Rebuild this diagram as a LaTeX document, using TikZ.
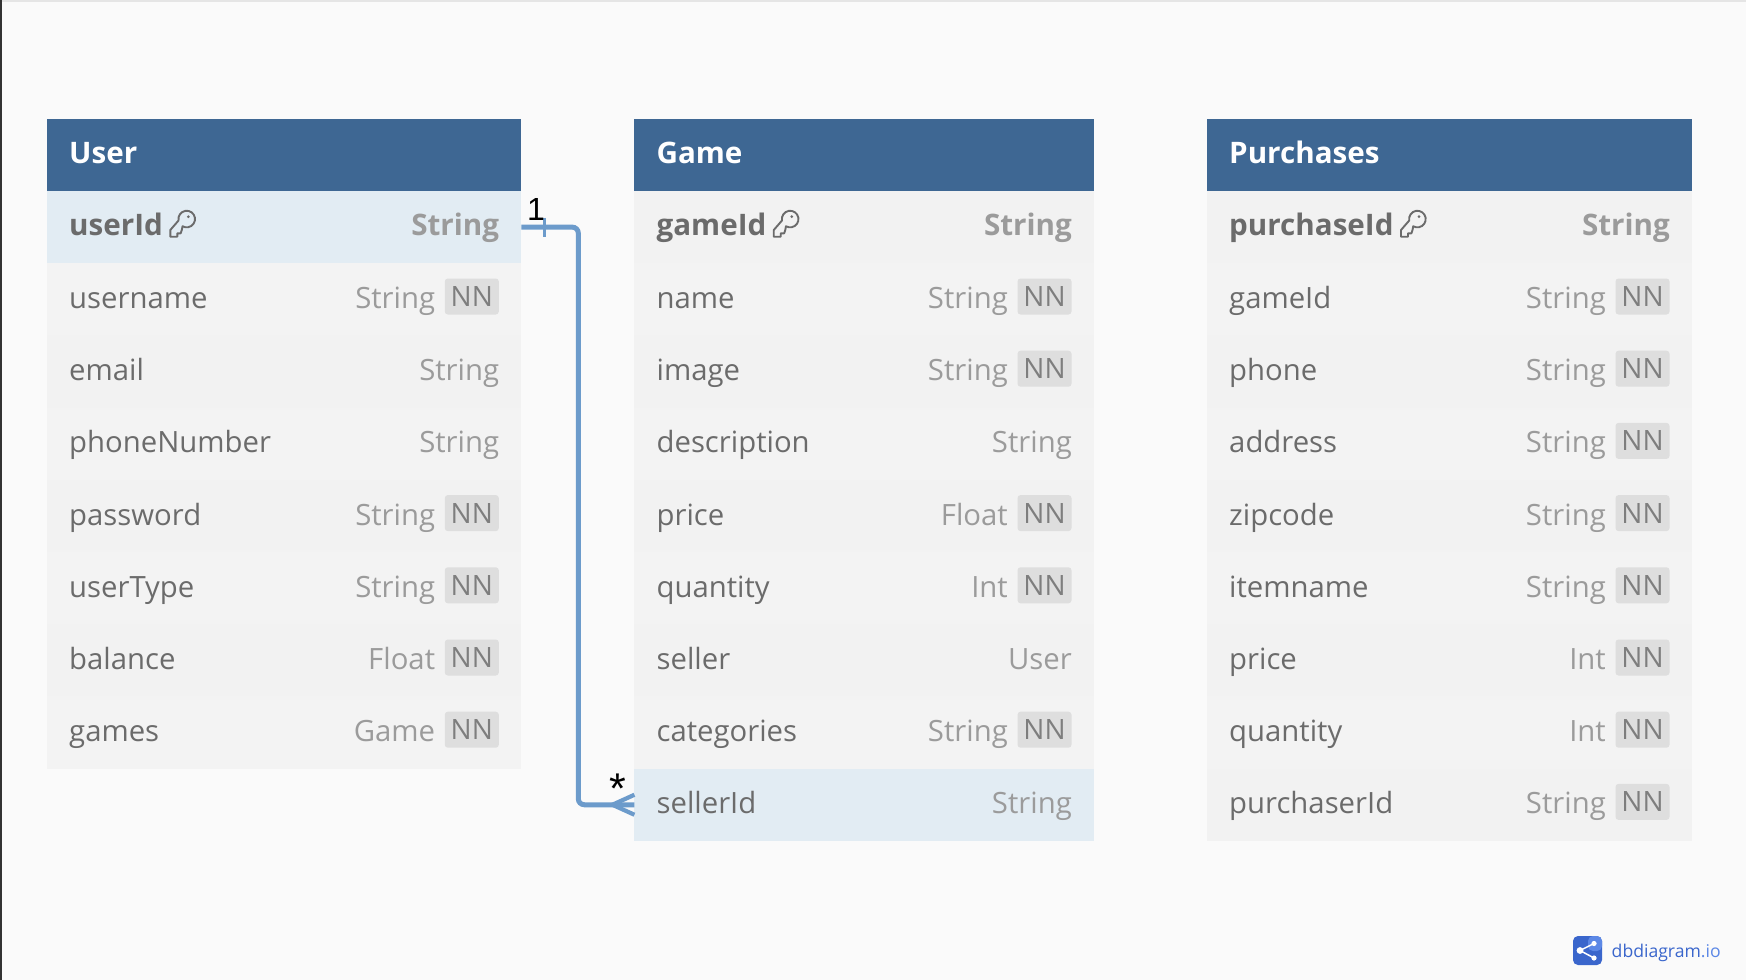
\documentclass[tikz,border=0pt]{standalone}
\usepackage{fontspec}
\setmainfont{Open Sans}
\newfontfamily\liberation{Liberation Sans}
\usetikzlibrary{calc}
\definecolor{bgc}{HTML}{FAFAFA}
\definecolor{headc}{HTML}{3E6793}
\definecolor{rowa}{HTML}{F2F2F2}
\definecolor{rowb}{HTML}{F3F3F3}
\definecolor{hilite}{HTML}{E2ECF3}
\definecolor{namec}{HTML}{6B6B6B}
\definecolor{typec}{HTML}{9B9B9B}
\definecolor{nnbg}{HTML}{DEDEDE}
\definecolor{nnc}{HTML}{7E7E7E}
\definecolor{linkc}{HTML}{6C9BCB}
\definecolor{logoa}{HTML}{3A66CC}
\definecolor{logob}{HTML}{5C88E6}
\tikzset{
  cellbox/.style={inner sep=0pt,outer sep=0pt,anchor=north west},
  headbox/.style={cellbox,fill=headc},
  headtext/.style={anchor=base west,inner sep=0pt,text=white,font=\fontsize{29.6}{30}\selectfont\bfseries},
  nametext/.style={anchor=base west,inner sep=0pt,text=namec,font=\fontsize{29.3}{30}\selectfont},
  typetext/.style={anchor=base east,inner sep=0pt,text=typec,font=\fontsize{29.3}{30}\selectfont},
  pktext/.style={font=\fontsize{29.6}{30}\selectfont\bfseries},
  nnbadge/.style={fill=nnbg,rounded corners=3pt,minimum width=54pt,minimum height=36pt,inner sep=0pt,text=nnc,font=\fontsize{28}{28}\selectfont},
  linkline/.style={draw=linkc,line width=5pt},
  keyline/.style={draw=namec,line width=1.9pt,line join=round},
  marklabel/.style={inner sep=0pt,text=black,font=\liberation\fontsize{32}{32}\selectfont},
}
% table id, left, right
\newcommand{\dbhead}[4]{%
  \node[headbox,minimum width=#3pt-#2pt,minimum height=72pt] (#1) at (#2,119) {};
  \node[headtext] (#1-title) at (#2+22,163) {#4};
}
% #1 id, #2 left, #3 right, #4 row index, #5 fill, #6 name, #7 type, #8 NN?
\newcommand{\dbrow}[8]{%
  \pgfmathsetmacro{\rowtop}{191+72.2*#4}
  \pgfmathsetmacro{\rowbase}{\rowtop+45.2}
  \node[cellbox,fill=#5,minimum width=#3pt-#2pt,minimum height=72.3pt] (#1) at (#2,\rowtop) {};
  \node[nametext] (#1-name) at (#2+22,\rowbase) {#6};
  \ifnum#8=1
    \node[nnbadge] (#1-nn) at (#3-49.5,\rowtop+33.3) {NN};
    \node[typetext] (#1-type) at (#3-86,\rowbase) {#7};
  \else
    \node[typetext] (#1-type) at (#3-22,\rowbase) {#7};
  \fi
}
% primary key row
\newcommand{\dbpk}[6]{%
  \node[cellbox,fill=#4,minimum width=#3pt-#2pt,minimum height=72.3pt] (#1) at (#2,191) {};
  \node[nametext,pktext] (#1-name) at (#2+22,235) {#5};
  \node[typetext,pktext] (#1-type) at (#3-22,235) {#6};
  \begin{scope}[shift={($(#1-name.base east)+(-1.5,0)$)}]
    \draw[keyline] (17.0,-14.5) arc[start angle=170,end angle=480,radius=8.3]
      -- (20.2,-4.7) -- (19.2,-1.7) -- (15.8,-1.7) -- (15.8,1.7) -- (8.8,1.7) -- (8.8,-5) -- cycle;
    \fill[namec] (26.8,-18.3) circle[radius=1.5];
  \end{scope}
}
\begin{document}
\begin{tikzpicture}[x=1pt,y=-1pt]
\useasboundingbox (0,0) rectangle (1746,980);
\fill[bgc] (0,0) rectangle (1746,980);
\fill[black!10] (0,0) rectangle (1746,1.5);
\fill[black!80] (0,0) rectangle (1.6,980);

% User
\dbhead{user}{47}{521.3}{User}
\dbpk{uid}{47}{521.3}{hilite}{userId}{String}
\dbrow{uname}{47}{521.3}{1}{rowb}{username}{String}{1}
\dbrow{uemail}{47}{521.3}{2}{rowa}{email}{String}{0}
\dbrow{uphone}{47}{521.3}{3}{rowb}{phoneNumber}{String}{0}
\dbrow{upass}{47}{521.3}{4}{rowa}{password}{String}{1}
\dbrow{utype}{47}{521.3}{5}{rowb}{userType}{String}{1}
\dbrow{ubal}{47}{521.3}{6}{rowa}{balance}{Float}{1}
\dbrow{ugames}{47}{521.3}{7}{rowb}{games}{Game}{1}

% Game
\dbhead{game}{634.4}{1094}{Game}
\dbpk{gid}{634.4}{1094}{rowa}{gameId}{String}
\dbrow{gname}{634.4}{1094}{1}{rowb}{name}{String}{1}
\dbrow{gimage}{634.4}{1094}{2}{rowa}{image}{String}{1}
\dbrow{gdesc}{634.4}{1094}{3}{rowb}{description}{String}{0}
\dbrow{gprice}{634.4}{1094}{4}{rowa}{price}{Float}{1}
\dbrow{gqty}{634.4}{1094}{5}{rowb}{quantity}{Int}{1}
\dbrow{gseller}{634.4}{1094}{6}{rowa}{seller}{User}{0}
\dbrow{gcat}{634.4}{1094}{7}{rowb}{categories}{String}{1}
\dbrow{gsid}{634.4}{1094}{8}{hilite}{sellerId}{String}{0}

% Purchases
\dbhead{purch}{1207}{1692}{Purchases}
\dbpk{pid}{1207}{1692}{rowa}{purchaseId}{String}
\dbrow{pgame}{1207}{1692}{1}{rowb}{gameId}{String}{1}
\dbrow{pphone}{1207}{1692}{2}{rowa}{phone}{String}{1}
\dbrow{paddr}{1207}{1692}{3}{rowb}{address}{String}{1}
\dbrow{pzip}{1207}{1692}{4}{rowa}{zipcode}{String}{1}
\dbrow{pitem}{1207}{1692}{5}{rowb}{itemname}{String}{1}
\dbrow{pprice}{1207}{1692}{6}{rowa}{price}{Int}{1}
\dbrow{pqty}{1207}{1692}{7}{rowb}{quantity}{Int}{1}
\dbrow{pbuyer}{1207}{1692}{8}{rowa}{purchaserId}{String}{1}

% Relationship
\draw[linkline,rounded corners=6pt] (uid.east) -- ++(57,0) |- (gsid.west);
\draw[draw=linkc,line width=3.5pt] ($(uid.east)+(23,-9.5)$) -- ($(uid.east)+(23,9.5)$);
\draw[draw=linkc,line width=4.2pt] ($(gsid.west)+(0,-10)$) -- ($(gsid.west)+(-22,0)$) -- ($(gsid.west)+(0,10)$);
\node[marklabel,anchor=base] (onelabel) at (536,220) {1};
\node[marklabel,anchor=base,font=\liberation\fontsize{43}{43}\selectfont] (manylabel) at (618,803.5) {*};

% Logo
\begin{scope}
\fill[logoa,rounded corners=5pt] (1573,936) rectangle (1602,965);
\fill[logob,rounded corners=5pt] (1588,936) -- (1602,936) -- (1602,951) -- (1588,951) -- cycle;
\draw[white,line width=1.5pt] (1580,950.5) -- (1594,943.5) (1580,950.5) -- (1594,958);
\fill[white] (1580,950.5) circle[radius=3.4] (1594,943.5) circle[radius=2.6] (1594,958) circle[radius=2.6];
\end{scope}
\node[anchor=base west,inner sep=0pt,font=\fontsize{17.6}{17.6}\selectfont,text=logoa] (logotext) at (1611.5,957.5) {dbdiagram\textcolor{logob}{.io}};
\end{tikzpicture}
\end{document}
